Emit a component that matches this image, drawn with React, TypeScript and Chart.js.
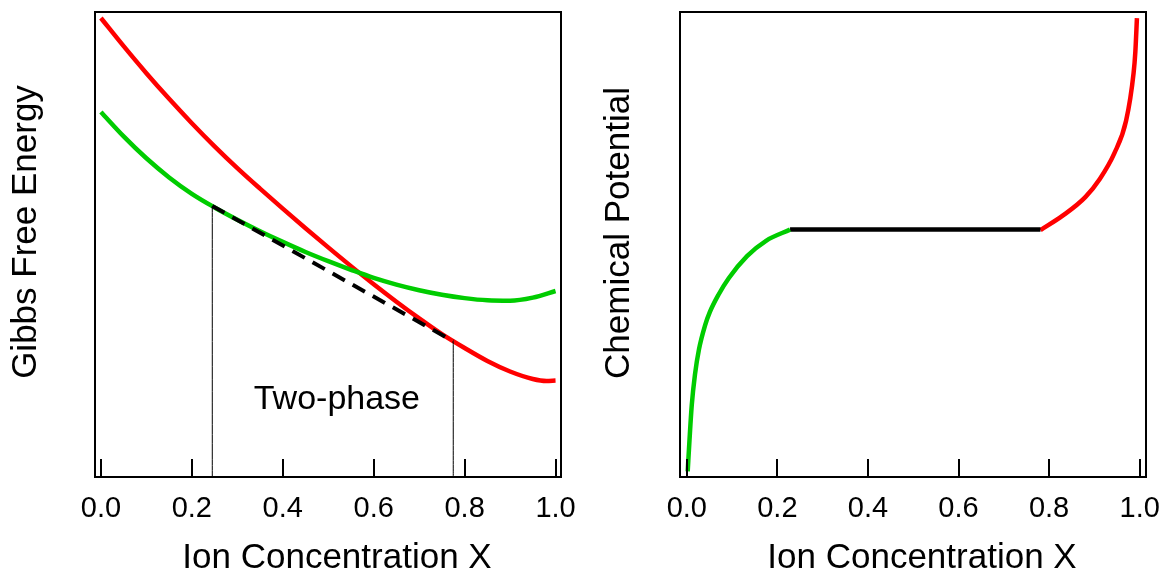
import React, { useEffect, useRef } from "react";
import { Chart, registerables } from "chart.js";

Chart.register(...registerables);

const FONT = "'Liberation Sans', Arial, Helvetica, sans-serif";

// shared x axis
const tickValues = [0, 0.2, 0.4, 0.6, 0.8, 1.0];
const tickLabels = ["0.0", "0.2", "0.4", "0.6", "0.8", "1.0"];
const xAxisTitle = "Ion Concentration X";

// ---- Left panel: Gibbs free energy (arbitrary units, 0..100)
const gibbsTitle = "Gibbs Free Energy";
const redGibbsX = [0, 0.05, 0.1, 0.15, 0.2, 0.25, 0.3, 0.35, 0.4, 0.45, 0.5, 0.55, 0.6, 0.65, 0.7, 0.75, 0.8, 0.85, 0.9, 0.95, 0.98, 1.0];
const redGibbsY = [98.71, 92.65, 86.84, 81.33, 76.09, 71.12, 66.43, 62.01, 57.71, 53.51, 49.38, 45.35, 41.45, 37.7, 34.12, 30.73, 27.74, 24.95, 22.69, 21.08, 20.65, 20.75];
const greenGibbsX = [0, 0.05, 0.1, 0.15, 0.2, 0.25, 0.3, 0.35, 0.4, 0.45, 0.5, 0.55, 0.6, 0.65, 0.7, 0.75, 0.8, 0.85, 0.9, 0.95, 1.0];
const greenGibbsY = [78.5, 73.25, 68.54, 64.43, 60.9, 57.97, 55.33, 52.86, 50.56, 48.39, 46.41, 44.56, 42.82, 41.38, 40.17, 39.2, 38.47, 38.0, 37.91, 38.58, 40.0];
const tangentX = [0.245, 0.775];
const tangentY = [58.28, 29.2];
const twoPhaseLabel = "Two-phase";
const twoPhaseX = 0.519;
const twoPhaseY = 14.6;

// ---- Right panel: chemical potential (arbitrary units, 0..100)
const potentialTitle = "Chemical Potential";
const greenMuX = [0.002, 0.006, 0.011, 0.018, 0.027, 0.04, 0.051, 0.07, 0.093, 0.133, 0.175, 0.228];
const greenMuY = [1.2, 8.0, 15.5, 22.0, 27.5, 32.5, 35.5, 39.2, 42.8, 47.5, 50.8, 53.2];
const plateauX = [0.228, 0.781];
const plateauY = [53.2, 53.2];
const redMuX = [0.781, 0.83, 0.88, 0.912, 0.944, 0.97, 0.9866, 0.9905, 0.994];
const redMuY = [53.1, 56.2, 60.2, 64.1, 69.6, 76.6, 86.9, 91.5, 98.7];

const RED = "#ff0000";
const GREEN = "#00cc00";

function pts(xs: number[], ys: number[]) {
  return xs.map((x, i) => ({ x, y: ys[i] }));
}

function curve(xs: number[], ys: number[], color: string, width: number, dash: number[] = []) {
  return {
    data: pts(xs, ys),
    borderColor: color,
    borderWidth: width,
    borderDash: dash,
    pointRadius: 0,
    fill: false,
    cubicInterpolationMode: "monotone" as const,
  };
}

type Decor = {
  yTitle: string;
  yTitleX: number;
  yTitleY: number;
  xTitleOffset: number;
  xTitleBaseline: number;
  note?: { text: string; x: number; y: number };
};

function decorPlugin(d: Decor) {
  return {
    id: "decor",
    afterDatasetsDraw(chart: any) {
      const ctx = chart.ctx as CanvasRenderingContext2D;
      const a = chart.chartArea;
      const xs = chart.scales.x;
      const ys = chart.scales.y;
      ctx.save();
      ctx.strokeStyle = "#000";
      ctx.lineWidth = 2;
      ctx.strokeRect(a.left, a.top, a.right - a.left, a.bottom - a.top);
      ctx.beginPath();
      for (const v of tickValues) {
        const px = Math.round(xs.getPixelForValue(v));
        ctx.moveTo(px, a.bottom);
        ctx.lineTo(px, a.bottom - 18);
      }
      ctx.stroke();
      ctx.fillStyle = "#000";
      ctx.font = `35px ${FONT}`;
      ctx.textAlign = "center";
      ctx.textBaseline = "alphabetic";
      ctx.fillText(xAxisTitle, (a.left + a.right) / 2 + d.xTitleOffset, d.xTitleBaseline);
      ctx.save();
      ctx.translate(d.yTitleX, d.yTitleY);
      ctx.rotate(-Math.PI / 2);
      ctx.fillText(d.yTitle, 0, 0);
      ctx.restore();
      if (d.note) {
        ctx.font = `34px ${FONT}`;
        ctx.fillText(d.note.text, xs.getPixelForValue(d.note.x), ys.getPixelForValue(d.note.y));
      }
      ctx.restore();
    },
  };
}

function options(xMin: number, xMax: number, padLeft: number, padRight: number) {
  return {
    animation: false as const,
    responsive: false,
    maintainAspectRatio: false,
    layout: { padding: { left: padLeft, top: 12, right: padRight, bottom: 0 } },
    plugins: { legend: { display: false }, tooltip: { enabled: false } },
    elements: { point: { radius: 0 } },
    scales: {
      x: {
        type: "linear" as const,
        min: xMin,
        max: xMax,
        grid: { display: false, drawTicks: false },
        border: { display: false },
        afterBuildTicks: (s: any) => {
          s.ticks = tickValues.map((v) => ({ value: v }));
        },
        afterFit: (s: any) => {
          s.height = 96;
          s.paddingLeft = 0;
          s.paddingRight = 0;
        },
        ticks: {
          autoSkip: false,
          maxRotation: 0,
          padding: 15,
          color: "#000",
          font: { family: FONT, size: 29 },
          callback: (_v: any, i: number) => tickLabels[i],
        },
      },
      y: { type: "linear" as const, min: 0, max: 100, display: false },
    },
  };
}

export default function App() {
  const leftRef = useRef<HTMLCanvasElement>(null);
  const rightRef = useRef<HTMLCanvasElement>(null);

  useEffect(() => {
    const left = new Chart(leftRef.current!, {
      type: "line",
      data: {
        datasets: [
          curve([tangentX[0], tangentX[0]], [0, tangentY[0]], "#000", 1),
          curve([tangentX[1], tangentX[1]], [0, tangentY[1]], "#000", 1),
          curve(tangentX, tangentY, "#000", 4, [14, 9]),
          curve(greenGibbsX, greenGibbsY, GREEN, 4.5),
          curve(redGibbsX, redGibbsY, RED, 4.5),
        ] as any,
      },
      options: options(-0.013, 1.012, 95, 19) as any,
      plugins: [
        decorPlugin({
          yTitle: gibbsTitle,
          yTitleX: 36,
          yTitleY: 232,
          xTitleOffset: 9,
          xTitleBaseline: 568,
          note: { text: twoPhaseLabel, x: twoPhaseX, y: twoPhaseY },
        }),
      ],
    });
    const right = new Chart(rightRef.current!, {
      type: "line",
      data: {
        datasets: [
          curve(greenMuX, greenMuY, GREEN, 4.5),
          curve(plateauX, plateauY, "#000", 4.5),
          curve(redMuX, redMuY, RED, 4.5),
        ] as any,
      },
      options: options(-0.015, 1.014, 100, 16) as any,
      plugins: [
        decorPlugin({
          yTitle: potentialTitle,
          yTitleX: 49,
          yTitleY: 233,
          xTitleOffset: 9,
          xTitleBaseline: 568,
        }),
      ],
    });
    return () => {
      left.destroy();
      right.destroy();
    };
  }, []);

  return (
    <div style={{ position: "fixed", left: 0, top: 0, width: 1162, height: 573, background: "#fff" }}>
      <canvas ref={leftRef} width={580} height={573} style={{ position: "absolute", left: 0, top: 0, width: 580, height: 573 }} />
      <canvas ref={rightRef} width={582} height={573} style={{ position: "absolute", left: 580, top: 0, width: 582, height: 573 }} />
    </div>
  );
}
